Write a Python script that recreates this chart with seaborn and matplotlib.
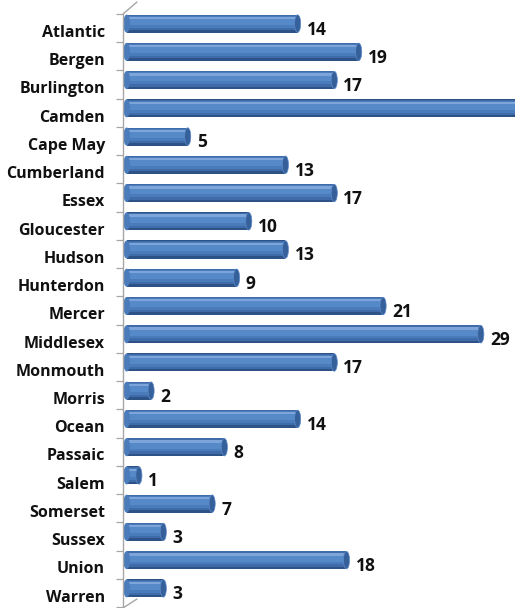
import numpy as np
import pandas as pd
import seaborn as sns
import matplotlib.pyplot as plt
import matplotlib.transforms as mtransforms
from matplotlib.patches import Ellipse

counties = ["Atlantic", "Bergen", "Burlington", "Camden", "Cape May", "Cumberland",
            "Essex", "Gloucester", "Hudson", "Hunterdon", "Mercer", "Middlesex",
            "Monmouth", "Morris", "Ocean", "Passaic", "Salem", "Somerset",
            "Sussex", "Union", "Warren"]
counts = [14, 19, 17, 34, 5, 13, 17, 10, 13, 9, 21, 29, 17, 2, 14, 8, 1, 7, 3, 18, 3]

df = pd.DataFrame({"county": counties, "count": counts})

sns.set_style("white")
plt.rcParams["font.family"] = ["Open Sans", "DejaVu Sans"]

fig = plt.figure(figsize=(5.15, 6.08), dpi=100)
# axis from x=123px to right edge, rows from y=14 to y=607
ax = fig.add_axes([123 / 515, 1 / 608, 392 / 515, 593 / 608])

# cylinder look: stacked bands, (width, shift up, colour)
layers = [(0.64, 0.0, "#2D5285"),
          (0.54, 0.04, "#3F6CA8"),
          (0.42, 0.06, "#4A7BBA"),
          (0.26, 0.08, "#5689C8"),
          (0.08, 0.20, "#7DA5DA")]
lift = 0.16
n_before = 0
for w, sh, c in layers:
    sns.barplot(data=df, x="count", y="county", orient="h", color=c,
                width=w, saturation=1, ax=ax, linewidth=0)
    for p in ax.patches[n_before:]:
        p.set_y(p.get_y() - lift - sh)
    n_before = len(ax.patches)

# rounded end caps
for i, v in enumerate(counts):
    ax.add_patch(Ellipse((v, i - lift), 0.5, 0.62, facecolor="#35609A",
                         edgecolor="#5E8ACB", linewidth=0.5, zorder=3))
    ax.add_patch(Ellipse((0, i - lift), 0.55, 0.64, facecolor="#4A7BBA",
                         edgecolor="none", zorder=1))

ax.set_xlim(-0.3, 31.8)
ax.set_ylim(20.5, -0.5)
ax.set_xlabel("")
ax.set_ylabel("")
ax.set_xticks([])

for i, v in enumerate(counts):
    if v < 31:
        ax.text(v + 0.75, i + 0.05, str(v), ha="left", va="center",
                fontsize=12.5, fontweight="bold", color="#111111")

ax.tick_params(axis="y", length=0, pad=13)
shift = mtransforms.ScaledTranslation(0, -2 / 72, fig.dpi_scale_trans)
for lab in ax.get_yticklabels():
    lab.set_fontsize(11.5)
    lab.set_fontweight("bold")
    lab.set_color("#111111")
    lab.set_transform(lab.get_transform() + shift)

ax.set_yticks(np.arange(-0.5, 21, 1), minor=True)
ax.tick_params(axis="y", which="minor", length=5, color="#A6A6A6", width=0.9, left=True)

for s in ["top", "right", "bottom"]:
    ax.spines[s].set_visible(False)
ax.spines["left"].set_color("#A6A6A6")
ax.spines["left"].set_linewidth(1.0)

# perspective corners of the 3D wall
ax.plot([0, 14 / 392], [1, 1 + 12 / 593], transform=ax.transAxes,
        color="#A6A6A6", lw=1.0, clip_on=False)
ax.plot([0, 14 / 392], [-1 / 593, 8 / 593], transform=ax.transAxes,
        color="#A6A6A6", lw=1.0, clip_on=False)

fig.savefig("out.png", dpi=100)
